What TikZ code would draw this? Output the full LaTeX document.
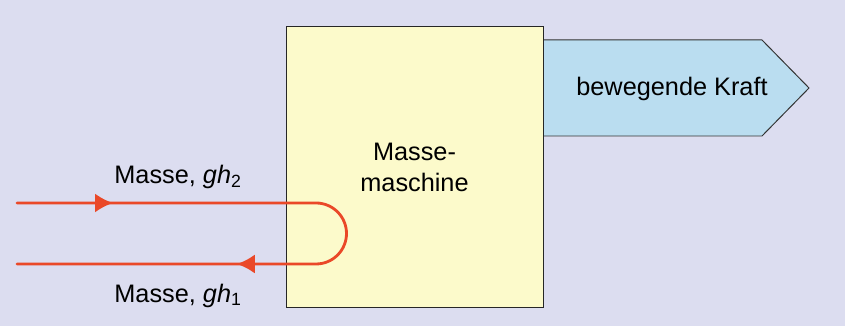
\documentclass[tikz,border=0pt]{standalone}
\usepackage{fontspec}
\setmainfont{Liberation Sans}
\usepackage{tikz}
\usetikzlibrary{arrows.meta,decorations.markings}

\definecolor{lavender}{RGB}{220,221,240}
\definecolor{machineyellow}{RGB}{252,250,203}
\definecolor{forceblue}{RGB}{186,221,240}
\definecolor{massred}{RGB}{234,72,40}

\begin{document}
\begin{tikzpicture}[
    label text/.style={font=\fontsize{18}{21}\selectfont, inner sep=0pt},
    mass flow/.style={line width=2pt, massred, line cap=round,
      postaction={decorate},
      decoration={markings,
        mark=at position 2.4cm with {\arrow{Latex[length=0.45cm,width=0.48cm]}},
        mark=at position 11.85cm with {\arrow{Latex[length=0.45cm,width=0.48cm]}}}}
  ]
    % background
    \fill[lavender] (0,0) rectangle (21.125,8.15);
    \useasboundingbox (0,0) rectangle (21.125,8.15);

    \coordinate (in2) at (0.425,3.075);
    \coordinate (turn2) at (7.9,3.075);
    \coordinate (out1) at (0.425,1.55);

    % output arrow
    \fill[forceblue] (13.575,7.15) -- (19.05,7.15) -- (20.225,5.95) -- (19.05,4.75) -- (13.575,4.75) -- cycle;
    \draw[line width=0.7pt, black!80] (13.575,7.15) -- (19.05,7.15) -- (20.225,5.95) -- (19.05,4.75) -- (13.575,4.75);
    \node[label text] (force) at (16.8,5.92) {bewegende Kraft};

    % machine
    \node[draw=black!85, line width=0.7pt, fill=machineyellow, minimum width=6.425cm, minimum height=7cm,
      align=center, font=\fontsize{18}{22}\selectfont] (machine) at (10.3625,3.975) {Masse-\\maschine};

    % mass in and out
    \draw[mass flow] (in2) -- (turn2) arc[start angle=90, end angle=-90, radius=0.7625] -- (out1);

    \node[label text] (mass2) at (4.45,3.73) {Masse, \textit{gh}\textsubscript{2}};
    \node[label text] (mass1) at (4.45,0.76) {Masse, \textit{gh}\textsubscript{1}};
  \end{tikzpicture}
\end{document}
